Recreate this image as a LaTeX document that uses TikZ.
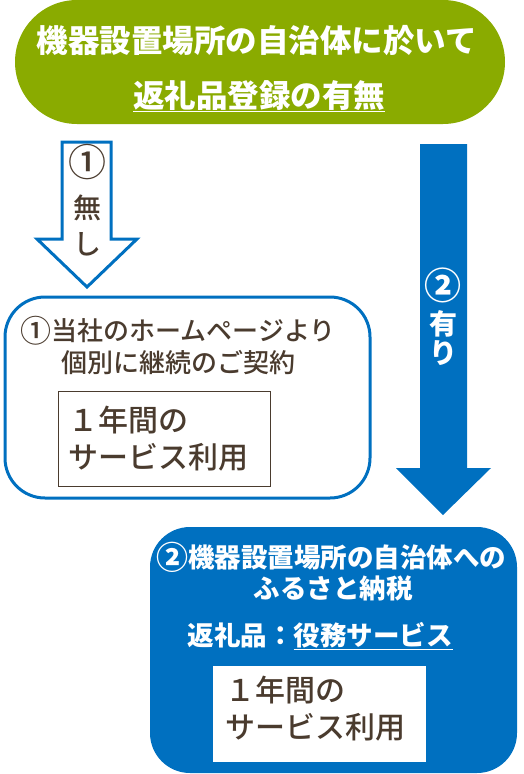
\documentclass[tikz,border=0pt]{standalone}
\usepackage{fontspec}
\newfontfamily\jpfont{Noto Sans CJK JP}
\newfontfamily\jpmid{Noto Sans CJK JP Medium}
\usetikzlibrary{positioning}
\definecolor{leaf}{HTML}{8AAB00}
\definecolor{sea}{HTML}{0070C0}
\definecolor{cocoa}{HTML}{4A3B2E}
% bigger circled number inside a line of text
\newcommand{\bignum}[2]{{\fontsize{#1}{#1}\selectfont\raisebox{-2.5pt}{#2}}}

\begin{document}
\begin{tikzpicture}[x=1pt, y=-1pt,
    every node/.style={inner sep=0pt, outer sep=0pt},
    whitetext/.style={font=\jpfont\bfseries\fontsize{#1}{#1}\selectfont, text=white, anchor=base},
    browntext/.style={font=\jpmid\fontsize{#1}{#1}\selectfont, text=cocoa, anchor=base},
    panel/.style={rectangle, rounded corners=40pt}]
    \useasboundingbox (0,0) rectangle (523,774);

    % Question
    \node [panel, fill=leaf, rounded corners=62pt, minimum width=490pt, minimum height=124pt] (top) at (260,62) {};
    \node [whitetext=31.5] (topa) at (257,52) {機器設置場所の自治体に於いて};
    \node [whitetext=31.5] (topb) at (259,107) {\underline{返礼品登録の有無}};

    % Arrows
    \draw [sea, line width=3pt, fill=white, line join=miter]
        (62,142) -- (111,142) -- (111,239) -- (137,239) -- (87,287) -- (37,239) -- (62,239) -- cycle;
    \node [browntext=38] (noa) at (87,176) {①};
    \node [browntext=28] (nob) at (87,218) {無};
    \node [browntext=28] (noc) at (87,254) {し};

    \fill [sea] (420,144) -- (467,144) -- (467,468) -- (491,468) -- (443,515) -- (396,468) -- (420,468) -- cycle;
    \node [whitetext=37] (yesa) at (443,299) {②};
    \node [whitetext=28] (yesb) at (443,334) {有};
    \node [whitetext=28] (yesc) at (443,363) {り};

    % Case 1
    \node [panel, draw=sea, line width=3pt, fill=white, minimum width=365pt, minimum height=201pt] (home) at (187.5,397.5) {};
    \node [browntext=26] (homea) at (178,340) {\bignum{31}{①}当社のホームページより};
    \node [browntext=26] (homeb) at (178,372) {個別に継続のご契約};
    \node [draw=cocoa, line width=1pt, minimum width=212pt, minimum height=95pt] (homeuse) at (164,438.5) {};
    \node [browntext=30, anchor=base west] (homeusea) at (68,431) {１年間の};
    \node [browntext=30, anchor=base west] (homeuseb) at (68,468) {サービス利用};

    % Case 2
    \node [panel, fill=sea, minimum width=367pt, minimum height=246pt] (tax) at (333.5,650) {};
    \node [whitetext=26.5] (taxa) at (331,567) {\bignum{32}{②}機器設置場所の自治体への};
    \node [whitetext=26.5] (taxb) at (333,598) {ふるさと納税};
    \node [whitetext=26.5] (taxc) at (320,645) {返礼品：\underline{役務サービス}};
    \node [fill=white, minimum width=213pt, minimum height=96pt] (taxuse) at (319.5,714) {};
    \node [browntext=30, anchor=base west] (taxusea) at (225,701) {１年間の};
    \node [browntext=30, anchor=base west] (taxuseb) at (225,738) {サービス利用};
\end{tikzpicture}
\end{document}
